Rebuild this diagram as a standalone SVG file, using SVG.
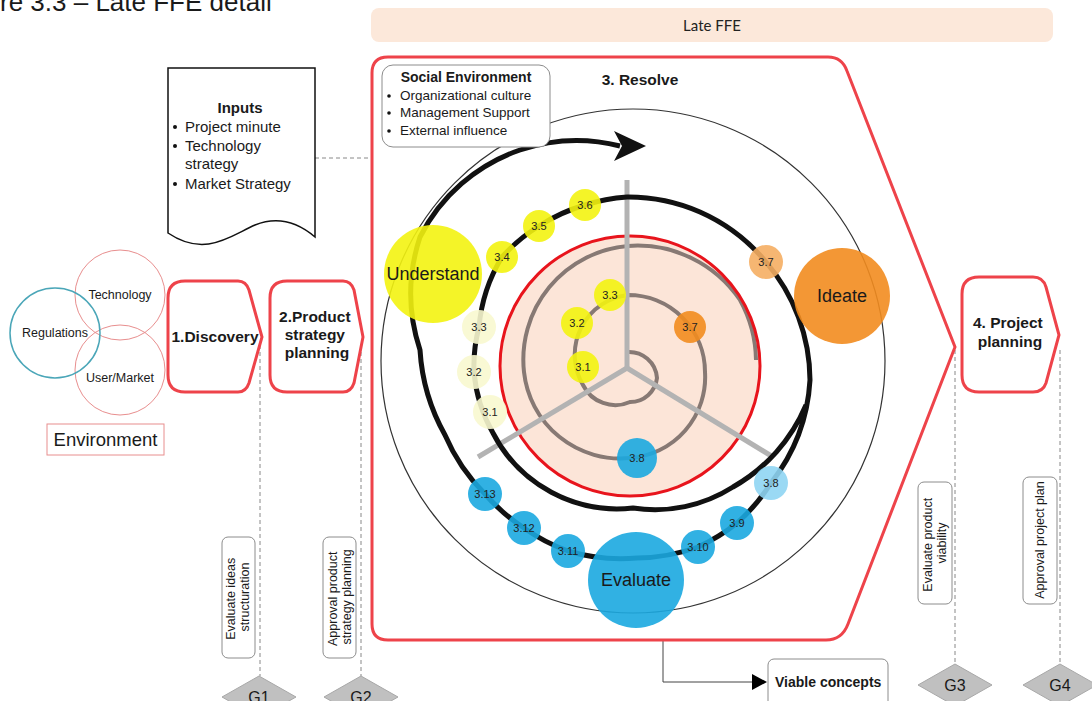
<svg xmlns="http://www.w3.org/2000/svg" width="1092" height="701" viewBox="0 0 1092 701">
  <style>
    .t { font-family: "Liberation Sans", Arial, sans-serif; fill: #1a1a1a; }
    .b { font-weight: bold; }
    .proc { fill: #ffffff; stroke: #ee434a; stroke-width: 3; }
    .gate { fill: #c0c0c0; stroke: #a8a8a8; stroke-width: 1; }
    .lbl { fill: #ffffff; stroke: #8c8c8c; stroke-width: 1; }
    .dash { fill: none; stroke: #888888; stroke-width: 1; stroke-dasharray: 4 3; }
    .bub { fill-opacity: 0.9; }
    .bt { font-family: "Liberation Sans", Arial, sans-serif; font-size: 11px; fill: #222; text-anchor: middle; }
    .big { font-family: "Liberation Sans", Arial, sans-serif; font-size: 18px; fill: #1a1a1a; text-anchor: middle; }
    .y { fill: #f3f311; }
    .ly { fill: #f8f8cf; }
    .o { fill: #f28c1f; }
    .lo { fill: #f5ae63; }
    .bl { fill: #1ba8e0; }
    .lb { fill: #8fd5f3; }
  </style>

  <!-- caption, clipped by the top edge -->
  <text class="t" x="0" y="11" font-size="26">re 3.3 – Late FFE detail</text>

  <!-- phase banner -->
  <g id="late-ffe">
    <rect x="371" y="8" width="682" height="34" rx="8" fill="#fce8da"/>
    <text x="712" y="31" font-family="Lato, 'Open Sans', sans-serif" font-size="15" fill="#222" text-anchor="middle">Late FFE</text>
  </g>

  <!-- connectors -->
  <g id="connectors">
    <line class="dash" x1="315" y1="158" x2="372" y2="158"/>
    <line class="dash" x1="260" y1="345" x2="260" y2="676"/>
    <line class="dash" x1="361" y1="345" x2="361" y2="676"/>
    <line class="dash" x1="955" y1="350" x2="955" y2="664"/>
    <line class="dash" x1="1060" y1="350" x2="1060" y2="664"/>
    <path d="M 663 641 V 682 H 753" fill="none" stroke="#444" stroke-width="1"/>
    <polygon points="752,674 767,682 752,690" fill="#000"/>
  </g>

  <!-- environment -->
  <g id="environment">
    <circle cx="120" cy="295" r="45" fill="none" stroke="#e88e8e" stroke-width="1"/>
    <circle cx="120" cy="370" r="45" fill="none" stroke="#e88e8e" stroke-width="1"/>
    <circle cx="55" cy="333" r="45" fill="none" stroke="#4aa6b8" stroke-width="1.5"/>
    <text class="t" x="120" y="299" font-size="12.5" text-anchor="middle">Technology</text>
    <text class="t" x="55" y="337" font-size="12.5" text-anchor="middle">Regulations</text>
    <text class="t" x="120" y="382" font-size="12.5" text-anchor="middle">User/Market</text>
    <rect x="47" y="424" width="117" height="31" fill="#fff" stroke="#e88e8e" stroke-width="1"/>
    <text class="t" x="105.5" y="446" font-size="18.5" text-anchor="middle">Environment</text>
  </g>

  <!-- inputs document -->
  <g id="inputs">
    <path d="M 168 68 H 315 V 237 C 295 220 275 217 255 225 C 230 236 205 258 168 233 Z" fill="#fff" stroke="#111" stroke-width="1.5"/>
    <text class="t b" x="240" y="113" font-size="15" text-anchor="middle">Inputs</text>
    <g class="t" font-size="15">
      <circle cx="175" cy="127" r="2" fill="#111"/>
      <text x="185" y="132">Project minute</text>
      <circle cx="175" cy="146" r="2" fill="#111"/>
      <text x="185" y="151">Technology</text>
      <text x="185" y="169">strategy</text>
      <circle cx="175" cy="184" r="2" fill="#111"/>
      <text x="185" y="189">Market Strategy</text>
    </g>
  </g>

  <!-- phase 1 -->
  <g id="discovery">
    <path class="proc" d="M 185 281 H 238 Q 246 281 249 290 L 262 337 L 249 383 Q 246 392 238 392 H 185 Q 168 392 168 375 V 298 Q 168 281 185 281 Z"/>
    <text class="t b" x="215" y="342" font-size="15.5" text-anchor="middle">1.Discovery</text>
  </g>

  <!-- phase 2 -->
  <g id="product-strategy">
    <path class="proc" d="M 287 281 H 343 Q 351 281 354 290 L 363 337 L 354 383 Q 351 392 343 392 H 287 Q 270 392 270 375 V 298 Q 270 281 287 281 Z"/>
    <text class="t b" font-size="15.5" text-anchor="middle">
      <tspan x="317" y="322">2.Product</tspan>
      <tspan x="317" y="340">strategy</tspan>
      <tspan x="317" y="358">planning</tspan>
    </text>
  </g>

  <!-- phase 3 -->
  <g id="resolve">
    <path class="proc" d="M 388 57 H 828 Q 842 57 847 71 L 955 347 L 848 624 Q 842 640 826 640 H 388 Q 372 640 372 624 V 73 Q 372 57 388 57 Z"/>
    <text class="t b" x="640" y="85" font-size="15.5" text-anchor="middle">3. Resolve</text>

    <!-- inner core -->
    <circle cx="630" cy="366" r="130" fill="#fce5d8"/>
    <path d="M 627 352 A 28 28 0 0 1 657 378 A 27 27 0 0 1 630 402 A 36 36 0 0 1 583 385 A 60 60 0 0 1 628 295 A 77 77 0 0 1 705 372 A 81 81 0 0 1 630 458 A 97 97 0 0 1 524 372 A 114 114 0 0 1 628 246 A 124 124 0 0 1 740 300 A 128 128 0 0 1 756 360" fill="none" stroke="#877974" stroke-width="4"/>
    <circle cx="630" cy="366" r="130" fill="none" stroke="#e8141c" stroke-width="3"/>
    <g stroke="#b3b3b3" stroke-width="5" stroke-linecap="butt">
      <line x1="627" y1="368" x2="627" y2="180"/>
      <line x1="627" y1="368" x2="478" y2="457"/>
      <line x1="627" y1="368" x2="773" y2="457"/>
    </g>

    <!-- process spiral -->
    <path d="M 806 405 A 170 170 0 0 1 733 487 A 145 145 0 0 1 633 508 A 140 140 0 0 1 493 433 A 148 148 0 0 1 474 372 A 152 152 0 0 1 479 327 A 162 162 0 0 1 502 257 A 171 171 0 0 1 539 226 A 174 174 0 0 1 585 205 A 177 177 0 0 1 627 197 A 179 179 0 0 1 700 212 A 180 180 0 0 1 766 262 A 183 183 0 0 1 810 380 A 184 184 0 0 1 771 483 A 184 184 0 0 1 737 523 A 186 186 0 0 1 698 547 A 185 185 0 0 1 637 558 A 184 184 0 0 1 568 551 A 184 184 0 0 1 524 528 A 184 184 0 0 1 485 494 A 187 187 0 0 1 445 435 A 198 198 0 0 1 420 350 A 180 180 0 0 1 420 237 A 176 176 0 0 1 520 150 A 176 176 0 0 1 620 146" fill="none" stroke="#111" stroke-width="5"/>
    <polygon points="614,131 646,146 614,161 622,146" fill="#111"/>

    <!-- outer boundary -->
    <circle cx="633" cy="361" r="252" fill="none" stroke="#333" stroke-width="1.2"/>
  </g>

  <!-- social environment -->
  <g id="social-environment">
    <rect x="382" y="65" width="168" height="82" rx="11" fill="#fff" stroke="#8c8c8c" stroke-width="1"/>
    <text class="t b" x="466" y="82" font-size="14" text-anchor="middle">Social Environment</text>
    <g class="t" font-size="13.5">
      <circle cx="389" cy="96" r="1.8" fill="#111"/>
      <text x="400" y="100">Organizational culture</text>
      <circle cx="389" cy="113" r="1.8" fill="#111"/>
      <text x="400" y="117">Management Support</text>
      <circle cx="389" cy="131" r="1.8" fill="#111"/>
      <text x="400" y="135">External influence</text>
    </g>
  </g>

  <!-- understand -->
  <g id="understand">
    <circle class="y bub" cx="433" cy="274" r="49"/>
    <text class="big" x="433" y="280" font-size="17">Understand</text>
    <circle class="ly bub" cx="479" cy="327" r="17"/><text class="bt" x="479" y="331">3.3</text>
    <circle class="ly bub" cx="474" cy="372" r="17"/><text class="bt" x="474" y="376">3.2</text>
    <circle class="ly bub" cx="490" cy="412" r="17"/><text class="bt" x="490" y="416">3.1</text>
    <circle class="y bub" cx="502" cy="257" r="16"/><text class="bt" x="502" y="261">3.4</text>
    <circle class="y bub" cx="539" cy="226" r="16"/><text class="bt" x="539" y="230">3.5</text>
    <circle class="y bub" cx="585" cy="205" r="16"/><text class="bt" x="585" y="209">3.6</text>
    <circle class="y bub" cx="610" cy="295" r="16"/><text class="bt" x="610" y="299">3.3</text>
    <circle class="y bub" cx="577" cy="323" r="16"/><text class="bt" x="577" y="327">3.2</text>
    <circle class="y bub" cx="583" cy="367" r="16"/><text class="bt" x="583" y="371">3.1</text>
  </g>

  <!-- ideate -->
  <g id="ideate">
    <circle class="o bub" cx="842" cy="296" r="48"/>
    <text class="big" x="842" y="302">Ideate</text>
    <circle class="lo bub" cx="766" cy="262" r="17"/><text class="bt" x="766" y="266">3.7</text>
    <circle class="o bub" cx="690" cy="327" r="16"/><text class="bt" x="690" y="331">3.7</text>
  </g>

  <!-- evaluate -->
  <g id="evaluate">
    <circle class="bl bub" cx="636" cy="580" r="48"/>
    <text class="big" x="636" y="586">Evaluate</text>
    <circle class="bl bub" cx="637" cy="458" r="20"/><text class="bt" x="637" y="462">3.8</text>
    <circle class="lb bub" cx="771" cy="483" r="17"/><text class="bt" x="771" y="487">3.8</text>
    <circle class="bl bub" cx="737" cy="523" r="17"/><text class="bt" x="737" y="527">3.9</text>
    <circle class="bl bub" cx="698" cy="547" r="17"/><text class="bt" x="698" y="551">3.10</text>
    <circle class="bl bub" cx="568" cy="551" r="17"/><text class="bt" x="568" y="555">3.11</text>
    <circle class="bl bub" cx="524" cy="528" r="17"/><text class="bt" x="524" y="532">3.12</text>
    <circle class="bl bub" cx="485" cy="494" r="17"/><text class="bt" x="485" y="498">3.13</text>
  </g>

  <!-- phase 4 -->
  <g id="project-planning">
    <path class="proc" d="M 979 277 H 1033 Q 1043 277 1046 287 L 1059 335 L 1046 383 Q 1043 392 1033 392 H 979 Q 962 392 962 375 V 294 Q 962 277 979 277 Z"/>
    <text class="t b" font-size="15.5" text-anchor="middle">
      <tspan x="1010" y="328">4. Project</tspan>
      <tspan x="1010" y="347">planning</tspan>
    </text>
  </g>

  <!-- output -->
  <g id="viable-concepts">
    <rect x="768" y="659" width="120" height="52" rx="6" class="lbl"/>
    <text class="t b" x="775" y="687" font-size="14">Viable concepts</text>
  </g>

  <!-- gate criteria -->
  <g id="label-g1">
    <rect x="222" y="537" width="33" height="121" rx="6" class="lbl"/>
    <text class="t" font-size="12.5" text-anchor="middle" transform="translate(238 597) rotate(-90)">
      <tspan x="0" y="-3">Evaluate ideas</tspan>
      <tspan x="0" y="11">structuration</tspan>
    </text>
  </g>
  <g id="label-g2">
    <rect x="323" y="537" width="33" height="121" rx="6" class="lbl"/>
    <text class="t" font-size="12.5" text-anchor="middle" transform="translate(340 597) rotate(-90)">
      <tspan x="0" y="-3">Approval product</tspan>
      <tspan x="0" y="11">strategy planning</tspan>
    </text>
  </g>
  <g id="label-g3">
    <rect x="918" y="482" width="34" height="122" rx="6" class="lbl"/>
    <text class="t" font-size="12.5" text-anchor="middle" transform="translate(935 543) rotate(-90)">
      <tspan x="0" y="-3">Evaluate product</tspan>
      <tspan x="0" y="11">viability</tspan>
    </text>
  </g>
  <g id="label-g4">
    <rect x="1023" y="477" width="34" height="127" rx="6" class="lbl"/>
    <text class="t" font-size="12.5" text-anchor="middle" transform="translate(1040 540) rotate(-90)">
      <tspan x="0" y="4">Approval project plan</tspan>
    </text>
  </g>

  <!-- gates -->
  <g id="g1">
    <polygon class="gate" points="259,676 296,697 259,718 222,697"/>
    <text class="t" x="259" y="703" font-size="16" text-anchor="middle" fill="#333">G1</text>
  </g>
  <g id="g2">
    <polygon class="gate" points="361,676 398,697 361,718 324,697"/>
    <text class="t" x="361" y="703" font-size="16" text-anchor="middle" fill="#333">G2</text>
  </g>
  <g id="g3">
    <polygon class="gate" points="955,664 992,685 955,706 918,685"/>
    <text class="t" x="955" y="691" font-size="16" text-anchor="middle" fill="#333">G3</text>
  </g>
  <g id="g4">
    <polygon class="gate" points="1060,664 1097,685 1060,706 1023,685"/>
    <text class="t" x="1060" y="691" font-size="16" text-anchor="middle" fill="#333">G4</text>
  </g>
</svg>
